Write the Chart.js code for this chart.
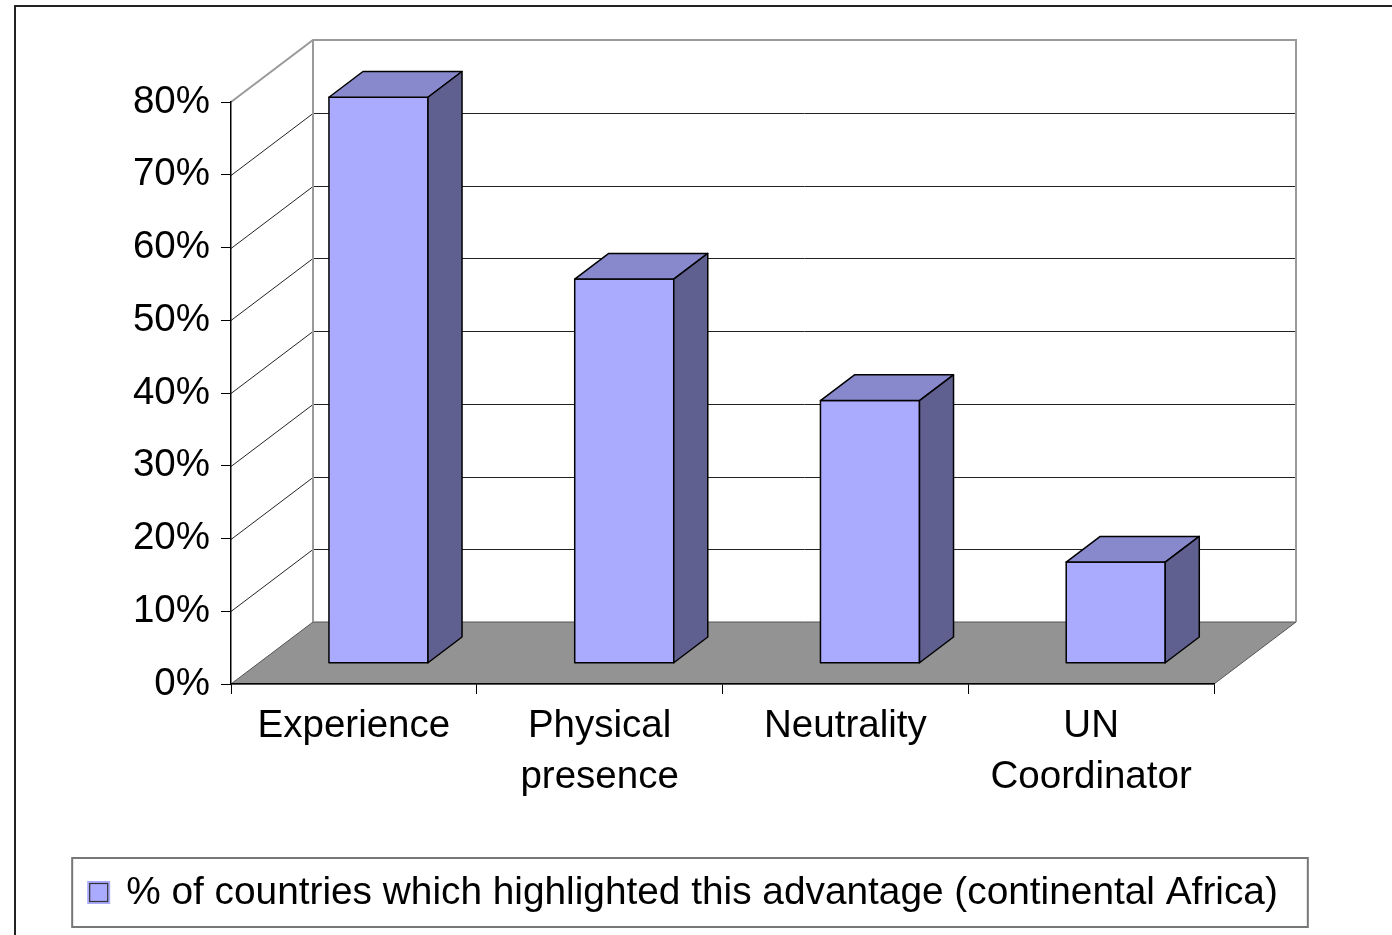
<!DOCTYPE html>
<html><head><meta charset="utf-8">
<script src="https://cdn.jsdelivr.net/npm/chart.js@4"></script>
<style>html,body{margin:0;padding:0;background:#fff;overflow:hidden}</style>
</head><body>
<canvas id="c" width="1392" height="935"></canvas>
<script>
// ---- data ----
const categories = ["Experience", ["Physical", "presence"], "Neutrality", ["UN", "Coordinator"]];
const seriesLabel = "% of countries which highlighted this advantage (continental Africa)";
const seriesValues = [77.8, 52.8, 36.1, 13.9];
const yTickValues = [0, 10, 20, 30, 40, 50, 60, 70, 80];

// ---- style ----
const FONT_FAMILY = '"Liberation Sans", Arial, sans-serif';
const FONT_SIZE = 38.5;
const LEGEND_FONT_SIZE = 38.8;
const DEPTH = { x: 82, y: -62 };
const GAP_FRONT_X = 0.30, GAP_FRONT_Y = 0.335, BAR_DEPTH = 0.415;
const COL_FRONT = '#AAAAFF', COL_TOP = '#8888CC', COL_SIDE = '#606090', COL_FLOOR = '#939393';

function poly(ctx, pts, fill) {
  ctx.beginPath();
  ctx.moveTo(pts[0][0], pts[0][1]);
  for (let i = 1; i < pts.length; i++) ctx.lineTo(pts[i][0], pts[i][1]);
  ctx.closePath();
  ctx.fillStyle = fill; ctx.fill(); ctx.stroke();
}

const threeD = {
  id: 'threeD',
  beforeDraw(chart) {
    const ctx = chart.ctx, a = chart.chartArea, ys = chart.scales.y;
    const dx = DEPTH.x, dy = DEPTH.y;
    const bl = a.left + dx, br = a.right + dx, bt = a.top + dy, bb = a.bottom + dy;
    ctx.save();
    // outer frame
    ctx.strokeStyle = '#222'; ctx.lineWidth = 2;
    ctx.beginPath(); ctx.moveTo(15, chart.height + 5); ctx.lineTo(15, 6); ctx.lineTo(chart.width + 5, 6); ctx.stroke();
    // floor
    ctx.fillStyle = COL_FLOOR;
    ctx.strokeStyle = '#555'; ctx.lineWidth = 1;
    ctx.beginPath(); ctx.moveTo(a.left, a.bottom); ctx.lineTo(a.right, a.bottom); ctx.lineTo(br, bb); ctx.lineTo(bl, bb); ctx.closePath();
    ctx.fill(); ctx.stroke();
    // gridlines on side and back walls
    ctx.strokeStyle = '#222'; ctx.lineWidth = 1;
    yTickValues.forEach(v => {
      if (v === yTickValues[0] || v === yTickValues[yTickValues.length - 1]) return;
      const y = Math.round(ys.getPixelForValue(v)) + 0.5;
      ctx.beginPath(); ctx.moveTo(a.left, y); ctx.lineTo(bl, y + dy); ctx.lineTo(br, y + dy); ctx.stroke();
    });
    // wall borders
    ctx.strokeStyle = '#9a9a9a'; ctx.lineWidth = 2;
    ctx.beginPath(); ctx.moveTo(a.left, a.top); ctx.lineTo(bl, bt); ctx.lineTo(br, bt); ctx.lineTo(br, bb); ctx.stroke();
    ctx.beginPath(); ctx.moveTo(bl, bt); ctx.lineTo(bl, bb); ctx.stroke();
    ctx.restore();
  },
  afterDatasetsDraw(chart) {
    const ctx = chart.ctx;
    const meta = chart.getDatasetMeta(0);
    const fx = DEPTH.x * GAP_FRONT_X, fy = DEPTH.y * GAP_FRONT_Y;
    const bx = DEPTH.x * BAR_DEPTH, by = DEPTH.y * BAR_DEPTH;
    ctx.save();
    ctx.lineJoin = 'round'; ctx.lineWidth = 1.5; ctx.strokeStyle = '#000';
    meta.data.forEach(el => {
      const p = el.getProps(['x', 'y', 'base', 'width'], true);
      const L = p.x - p.width / 2 + fx, R = p.x + p.width / 2 + fx, T = p.y + fy, B = p.base + fy;
      poly(ctx, [[L, T], [R, T], [R, B], [L, B]], COL_FRONT);
      poly(ctx, [[L, T], [R, T], [R + bx, T + by], [L + bx, T + by]], COL_TOP);
      poly(ctx, [[R, T], [R + bx, T + by], [R + bx, B + by], [R, B]], COL_SIDE);
    });
    ctx.restore();
  },
  afterDraw(chart) {
    const ctx = chart.ctx;
    ctx.save();
    ctx.font = LEGEND_FONT_SIZE + 'px ' + FONT_FAMILY;
    const label = chart.data.datasets[0].label;
    const tw = ctx.measureText(label).width;
    const boxW = tw + 84, boxH = 69, cx = 690, top = 858;
    const left = cx - boxW / 2;
    ctx.strokeStyle = '#777'; ctx.lineWidth = 2;
    ctx.strokeRect(left, top, boxW, boxH);
    // marker
    ctx.fillStyle = COL_FRONT;
    ctx.fillRect(left + 15, top + 23, 23, 23);
    ctx.strokeStyle = '#333'; ctx.lineWidth = 1.2;
    ctx.strokeRect(left + 17.5, top + 25.5, 18, 18);
    ctx.fillStyle = '#000'; ctx.textBaseline = 'middle'; ctx.textAlign = 'left';
    ctx.fillText(label, left + 54, top + boxH / 2 + 1);
    ctx.restore();
  }
};

new Chart(document.getElementById('c'), {
  type: 'bar',
  data: {
    labels: categories,
    datasets: [{
      label: seriesLabel,
      data: seriesValues,
      backgroundColor: 'rgba(0,0,0,0)',
      borderWidth: 0,
      categoryPercentage: 1,
      barPercentage: 0.403
    }]
  },
  plugins: [threeD],
  options: {
    responsive: false,
    animation: false,
    events: [],
    layout: { padding: { left: 0, right: 178, top: 102, bottom: 0 } },
    plugins: { legend: { display: false }, tooltip: { enabled: false } },
    scales: {
      x: {
        offset: true,
        grid: { offset: true, drawOnChartArea: false, drawTicks: true, tickLength: 10, color: '#000', lineWidth: 1 },
        border: { display: true, color: '#000', width: 1.5 },
        ticks: { color: '#000', padding: 7, maxRotation: 0, autoSkip: false,
                 font: { family: FONT_FAMILY, size: FONT_SIZE, lineHeight: 1.325 } },
        afterFit(s) { s.height = 251; }
      },
      y: {
        min: 0, max: 80,
        afterBuildTicks(s) { s.ticks = yTickValues.map(v => ({ value: v })); },
        grid: { drawOnChartArea: false, drawTicks: true, tickLength: 10, color: '#000', lineWidth: 1 },
        border: { display: true, color: '#000', width: 1.5 },
        ticks: { color: '#000', padding: 11, callback: v => v + '%',
                 font: { family: FONT_FAMILY, size: FONT_SIZE } },
        afterFit(s) { s.width = 231; }
      }
    }
  }
});
</script>
</body></html>
